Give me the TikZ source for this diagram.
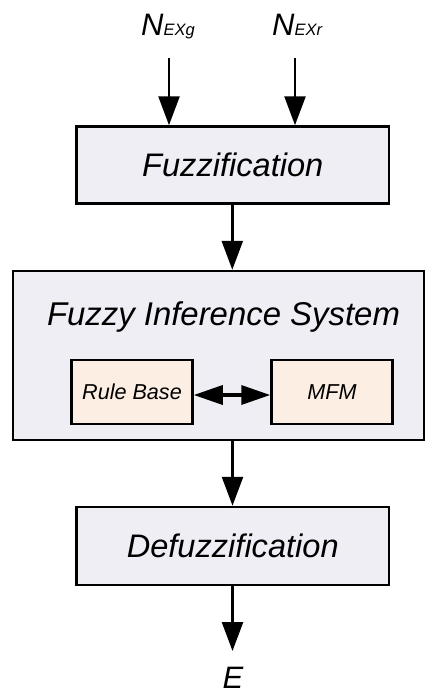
\documentclass[tikz,border=0pt]{standalone}
\usepackage{fontspec}
\setmainfont{Liberation Sans}
\usetikzlibrary{arrows.meta,calc}
\definecolor{boxfill}{HTML}{EFEEF4}
\definecolor{innerfill}{HTML}{FCEEE3}
\tikzset{
  bigbox/.style={draw=black, line width=2.5pt, fill=boxfill, inner sep=0pt,
    font=\fontsize{32.6}{36}\selectfont\itshape},
  smallbox/.style={draw=black, line width=2.5pt, fill=innerfill, inner sep=0pt,
    minimum width=121pt, minimum height=64pt,
    font=\fontsize{21.6}{24}\selectfont\itshape},
  flow/.style={line width=2.5pt, -{Triangle[length=29pt,width=21pt]}},
  both/.style={line width=3.5pt, {Triangle[length=29pt,width=19pt]}-{Triangle[length=29pt,width=19pt]}},
  lbl/.style={inner sep=0pt, font=\fontsize{31}{34}\selectfont\itshape}
}
\begin{document}
\begin{tikzpicture}[x=1pt,y=-1pt]
\useasboundingbox (0,0) rectangle (426,694);
% boxes
\node[bigbox, minimum width=312.5pt, minimum height=77pt] (fuzz) at (232.75,165) {Fuzzification};
\node[bigbox, minimum width=411pt, minimum height=169pt] (fis) at (218.5,355.5) {};
\node[inner sep=0pt, anchor=base, font=\fontsize{32.9}{36}\selectfont\itshape] (fistitle) at (223.5,325) {Fuzzy Inference System};
\node[smallbox] (rb) at (132,392) {Rule Base};
\node[smallbox] (mfm) at (332,392) {MFM};
\node[bigbox, minimum width=312.5pt, minimum height=78pt] (defuzz) at (232.75,546) {Defuzzification};
% labels
\node[lbl, anchor=base west] (ng) at (141,35) {N{\fontsize{16.5}{18}\selectfont EXg}};
\node[lbl, anchor=base west] (nr) at (272,35) {N{\fontsize{16.5}{18}\selectfont EXr}};
\node[lbl, anchor=base] (e) at (233,688) {E};
% arrow start/end points
\coordinate (g0) at (169,58);
\coordinate (r0) at (295,58);
\coordinate (e0) at (232.5,651);
% connectors
\draw[flow] (g0) -- (g0 |- fuzz.north);
\draw[flow] (r0) -- (r0 |- fuzz.north);
\draw[flow] (fuzz.south -| 232.3,0) -- (232.3,0 |- fis.north);
\draw[flow] (232.5,0 |- fis.south) -- (232.5,0 |- defuzz.north);
\draw[flow] (232.5,0 |- defuzz.south) -- (e0);
\draw[both] ([yshift=-3pt]rb.east) -- ([yshift=-3pt]mfm.west);
\end{tikzpicture}
\end{document}
